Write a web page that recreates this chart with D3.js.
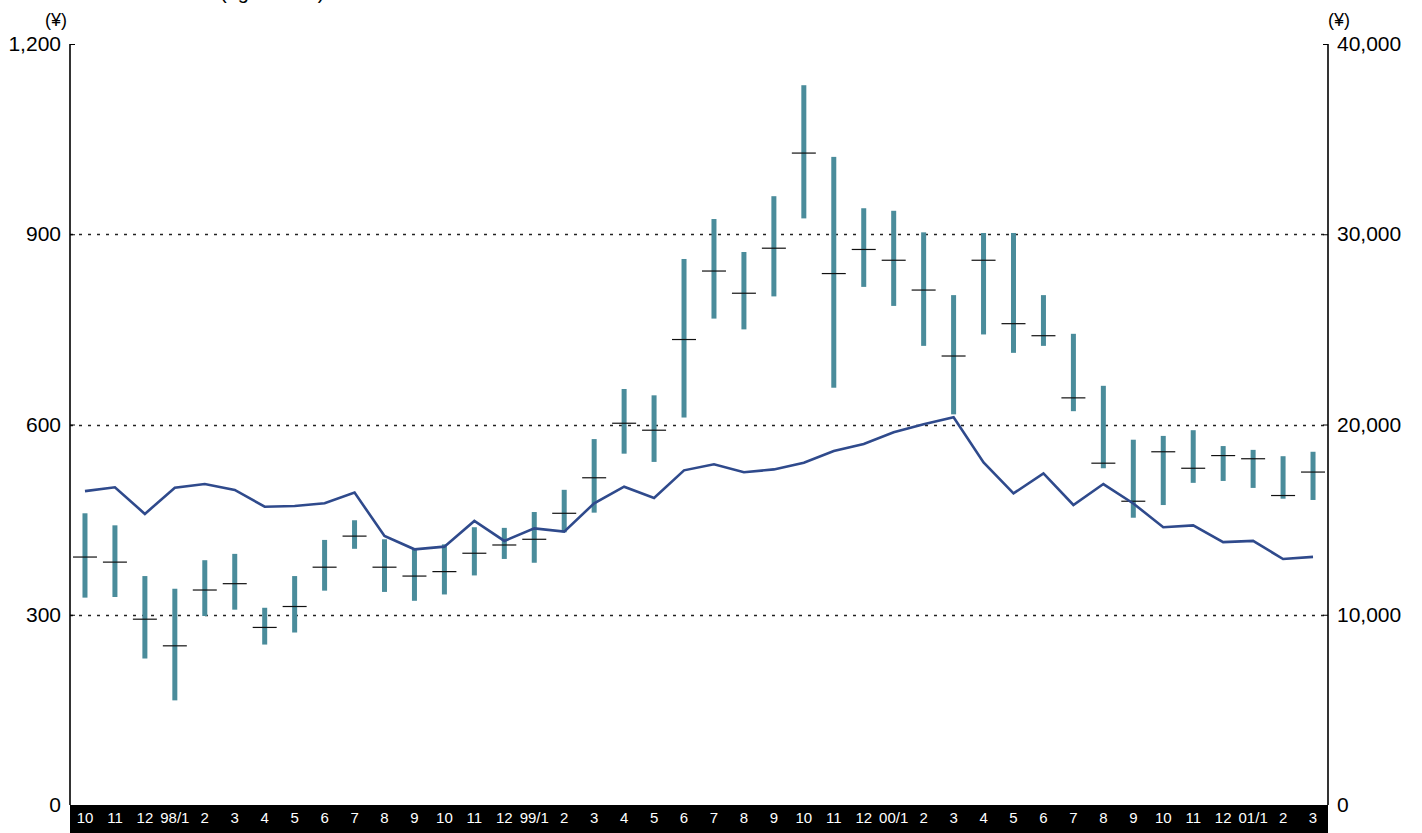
<!DOCTYPE html>
<html>
<head>
<meta charset="utf-8">
<script src="https://cdn.jsdelivr.net/npm/d3@7"></script>
<style>
  html, body { margin: 0; padding: 0; background: #fff; }
  svg { display: block; font-family: "Liberation Sans", Arial, sans-serif; }
</style>
</head>
<body>
<svg id="chart" width="1422" height="833"></svg>
<script>
// Monthly share price range (left scale, yen) and index level (right scale, yen)
const months = ["10","11","12","98/1","2","3","4","5","6","7","8","9","10","11","12",
  "99/1","2","3","4","5","6","7","8","9","10","11","12",
  "00/1","2","3","4","5","6","7","8","9","10","11","12",
  "01/1","2","3"];

const highs = [460,441,361,341,386,396,311,361,418,449,419,404,411,438,437,
  462,497,577,656,646,861,924,872,960,1135,1022,941,
  937,903,804,902,902,804,743,661,576,582,591,566,
  560,550,557];

const lows = [327,328,231,165,298,308,253,272,338,404,336,322,332,362,388,
  382,430,461,554,541,611,767,750,802,925,658,817,
  787,724,616,742,713,724,621,531,453,473,508,511,
  500,483,481];

const closes = [391,383,293,251,339,349,280,313,375,424,375,361,368,397,410,
  419,460,516,602,591,734,842,807,878,1028,838,876,
  859,812,708,859,759,740,642,539,479,557,531,551,
  546,488,525];

const indexLevels = [16500,16700,15300,16680,16870,16560,15680,15720,15860,16420,14140,13440,13580,14930,13880,
  14540,14370,15860,16730,16140,17590,17910,17490,17640,17990,18610,18980,
  19590,20010,20380,18010,16380,17430,15770,16870,15850,14600,14700,13820,
  13880,12930,13040];

const leftTicks = [0, 300, 600, 900, 1200];
const rightTicks = [0, 10000, 20000, 30000, 40000];
const gridValues = [300, 600, 900];

const svg = d3.select("#chart");
const plotLeft = 70, plotRight = 1328, plotTop = 44, plotBottom = 805;

const x = d3.scaleBand().domain(d3.range(months.length)).range([plotLeft, plotRight]).padding(0);
const yL = d3.scaleLinear().domain([0, 1200]).range([plotBottom, plotTop]);
const yR = d3.scaleLinear().domain([0, 40000]).range([plotBottom, plotTop]);
const cx = i => x(i) + x.bandwidth() / 2;

// dotted gridlines
svg.append("g").selectAll("line").data(gridValues).join("line")
  .attr("x1", plotLeft).attr("x2", plotRight)
  .attr("y1", d => Math.round(yL(d)) + 0.5).attr("y2", d => Math.round(yL(d)) + 0.5)
  .attr("stroke", "#222").attr("stroke-width", 1.6).attr("stroke-dasharray", "3,6");

// high-low bars
svg.append("g").selectAll("rect").data(highs).join("rect")
  .attr("x", (d, i) => cx(i) - 2.5)
  .attr("width", 5)
  .attr("y", d => yL(d))
  .attr("height", (d, i) => yL(lows[i]) - yL(d))
  .attr("fill", "#4a8c9b");

// closing price ticks
svg.append("g").selectAll("line").data(closes).join("line")
  .attr("x1", (d, i) => cx(i) - 12).attr("x2", (d, i) => cx(i) + 12)
  .attr("y1", d => yL(d)).attr("y2", d => yL(d))
  .attr("stroke", "#111").attr("stroke-width", 1.2);

// index line on right scale
svg.append("path")
  .datum(indexLevels)
  .attr("d", d3.line().x((d, i) => cx(i)).y(d => yR(d)))
  .attr("fill", "none").attr("stroke", "#2f4a8c").attr("stroke-width", 2.6)
  .attr("stroke-linejoin", "miter");

// month label band
svg.append("rect").attr("x", plotLeft).attr("y", plotBottom)
  .attr("width", plotRight - plotLeft).attr("height", 833 - plotBottom)
  .attr("fill", "#000");

// axes
const axL = svg.append("g").attr("transform", `translate(${plotLeft},0)`)
  .call(d3.axisLeft(yL).tickValues(leftTicks).tickSize(-5).tickPadding(14).tickFormat(d3.format(",")));
const axR = svg.append("g").attr("transform", `translate(${plotRight},0)`)
  .call(d3.axisRight(yR).tickValues(rightTicks).tickSize(-5).tickPadding(14).tickFormat(d3.format(",")));
[axL, axR].forEach(ax => {
  ax.select(".domain").attr("stroke", "#000").attr("stroke-width", 1.6)
    .attr("d", `M0,${plotTop}V${plotBottom}`);
  ax.selectAll(".tick line").attr("stroke", "#000");
  ax.selectAll(".tick text").attr("font-size", 21).attr("fill", "#000")
    .attr("font-family", "'Liberation Sans', Arial, sans-serif");
});
axL.selectAll(".tick text").attr("x", -9);
axR.selectAll(".tick text").attr("x", 9);

// x-axis month labels
const axX = svg.append("g").attr("transform", `translate(0,${plotBottom})`)
  .call(d3.axisBottom(x).tickFormat(i => months[i]).tickSize(0).tickPadding(0));
axX.select(".domain").remove();
axX.selectAll(".tick text").attr("fill", "#fff").attr("font-size", 15).attr("y", 7)
  .attr("font-family", "'Liberation Sans', Arial, sans-serif");

// unit labels
svg.append("text").attr("x", 56).attr("y", 26).attr("text-anchor", "middle")
  .attr("font-size", 18).text("(¥)");
svg.append("text").attr("x", 1339).attr("y", 26).attr("text-anchor", "middle")
  .attr("font-size", 18).text("(¥)");
// scale note running off the top edge
svg.append("text").attr("x", 220).attr("y", -1).attr("font-size", 20).text("(right scale)");
</script>
</body>
</html>
